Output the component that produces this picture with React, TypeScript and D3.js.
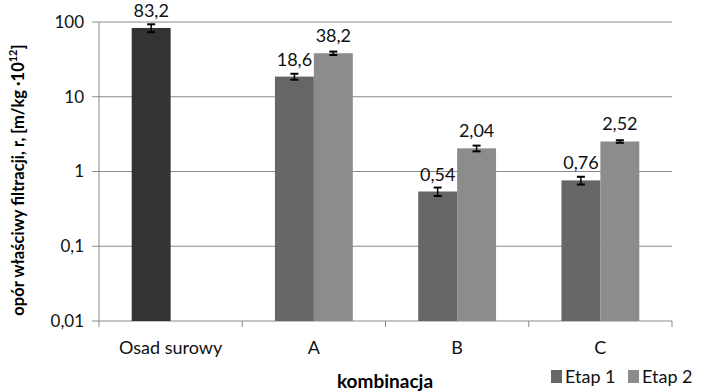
import React from 'react';
import * as d3 from 'd3';

const categories = ['Osad surowy', 'A', 'B', 'C'];
const seriesNames = ['Etap 1', 'Etap 2'];
const etap1 = [83.2, 18.6, 0.54, 0.76];
const etap2: (number | null)[] = [null, 38.2, 2.04, 2.52];
const err1 = [10, 1.7, 0.07, 0.09];
const err2: (number | null)[] = [null, 2.0, 0.18, 0.1];
const yTicks = [0.01, 0.1, 1, 10, 100];
const yTickLabels = ['0,01', '0,1', '1', '10', '100'];

const W = 710, H = 392;
const FONT = 'Lato, "Open Sans", sans-serif';
const COLORS = ['#666666', '#8c8c8c'];
const FIRST_COLOR = '#333333';

export default function App() {
  const x = d3.scaleBand().domain(categories).range([99, 672]).padding(0);
  const inner = d3.scaleBand().domain(seriesNames).range([0, x.bandwidth()]).paddingInner(0).paddingOuter(0.84);
  const y = d3.scaleLog().domain([0.01, 100]).range([321, 22]);
  const fmt = (v: number) => String(v).replace('.', ',');
  const series = [
    { name: seriesNames[0], vals: etap1 as (number | null)[], errs: err1 as (number | null)[] },
    { name: seriesNames[1], vals: etap2, errs: err2 },
  ];
  const y0 = y(0.01);
  return (
    <svg width={W} height={H} style={{ position: 'absolute', left: 0, top: 0, background: '#fff' }} fontFamily={FONT}>
      <rect x={0} y={0} width={W} height={H} fill="#fff" />
      {yTicks.map((t, i) => (
        <g key={t}>
          <line x1={92} x2={672} y1={y(t)} y2={y(t)} stroke="#8a8a8a" strokeWidth={1} />
          <text x={84} y={y(t)} dy="0.35em" textAnchor="end" fontSize={17} fill="#111">{yTickLabels[i]}</text>
        </g>
      ))}
      <line x1={99} x2={99} y1={22} y2={y0} stroke="#8a8a8a" />
      {[...categories.map(c => x(c)!), 672].map((px, i) => (
        <line key={i} x1={px} x2={px} y1={y0} y2={y0 + 6} stroke="#8a8a8a" />
      ))}
      {series.map((s, si) => s.vals.map((v, ci) => {
        if (v == null) return null;
        const bx = x(categories[ci])! + inner(s.name)!;
        const bw = inner.bandwidth();
        const top = y(v);
        const e = s.errs[ci] ?? 0;
        const cx = bx + bw / 2;
        const fill = si === 0 && ci === 0 ? FIRST_COLOR : COLORS[si];
        return (
          <g key={`${si}-${ci}`}>
            <rect x={bx} y={top} width={bw} height={y0 - top} fill={fill} />
            <line x1={cx} x2={cx} y1={y(v + e)} y2={y(v - e)} stroke="#000" strokeWidth={1.5} />
            <line x1={cx - 4} x2={cx + 4} y1={y(v + e)} y2={y(v + e)} stroke="#000" strokeWidth={2} />
            <line x1={cx - 4} x2={cx + 4} y1={y(v - e)} y2={y(v - e)} stroke="#000" strokeWidth={2} />
            <text x={cx} y={top - 11} textAnchor="middle" fontSize={18} fill="#111">{fmt(v)}</text>
          </g>
        );
      }))}
      {categories.map(c => (
        <text key={c} x={x(c)! + x.bandwidth() / 2} y={348} dy="0.35em" textAnchor="middle" fontSize={18} fill="#111">{c}</text>
      ))}
      <text x={385} y={381} dy="0.35em" textAnchor="middle" fontSize={19} fontWeight="bold" fill="#000">kombinacja</text>
      <text transform="translate(24,180) rotate(-90)" textAnchor="middle" fontSize={16.5} fontWeight="bold" fill="#000">
        opór właściwy filtracji, r, [m/kg ·10<tspan fontSize={11} dy={-7}>12</tspan><tspan dy={7}>]</tspan>
      </text>
      {seriesNames.map((n, i) => (
        <g key={n} transform={`translate(${551 + i * 77},370)`}>
          <rect x={0} y={0} width={11} height={13} fill={COLORS[i]} />
          <text x={14} y={7} dy="0.35em" fontSize={18} fill="#111">{n}</text>
        </g>
      ))}
    </svg>
  );
}
